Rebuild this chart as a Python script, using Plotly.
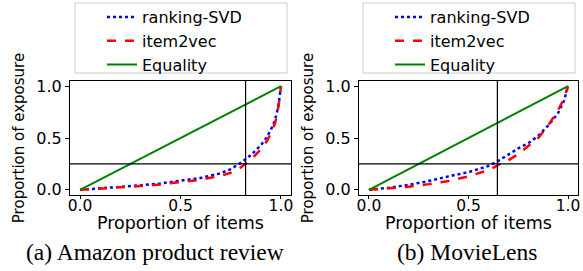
import plotly.graph_objects as go

# ---- data ----
amazon_x = [0, 0.1, 0.2, 0.3, 0.4, 0.5, 0.6, 0.7, 0.75, 0.8, 0.85, 0.9, 0.93, 0.95, 0.97, 0.98, 0.99, 1.0]
amazon_svd = [0, 0.012, 0.027, 0.043, 0.062, 0.085, 0.115, 0.16, 0.2, 0.26, 0.335, 0.43, 0.51, 0.58, 0.67, 0.75, 0.85, 1.0]
amazon_i2v = [0, 0.01, 0.022, 0.036, 0.052, 0.072, 0.097, 0.135, 0.165, 0.215, 0.29, 0.39, 0.47, 0.545, 0.64, 0.72, 0.83, 1.0]

movie_x = [0, 0.1, 0.2, 0.3, 0.4, 0.5, 0.6, 0.65, 0.7, 0.75, 0.8, 0.85, 0.9, 0.95, 0.98, 1.0]
movie_svd = [0, 0.02, 0.048, 0.085, 0.13, 0.17, 0.23, 0.28, 0.34, 0.4, 0.45, 0.52, 0.62, 0.74, 0.86, 1.0]
movie_i2v = [0, 0.012, 0.03, 0.055, 0.085, 0.13, 0.19, 0.24, 0.285, 0.345, 0.42, 0.5, 0.62, 0.77, 0.88, 1.0]

equality_x = [0, 1]
equality_y = [0, 1]

amazon_cut_x = 0.824
movie_cut_x = 0.645
cut_y = 0.25

series_names = ["ranking-SVD", "item2vec", "Equality"]
tick_vals = [0.0, 0.5, 1.0]
tick_text = ["0.0", "0.5", "1.0"]
x_title = "Proportion of items"
y_title = "Proportion of exposure"
captions = ["(a) Amazon product review", "(b) MovieLens"]

W, H = 583, 271
SANS = "DejaVu Sans"

fig = go.Figure()

panels = [
    ("x", "y", "legend", amazon_x, amazon_svd, amazon_i2v, amazon_cut_x),
    ("x2", "y2", "legend2", movie_x, movie_svd, movie_i2v, movie_cut_x),
]

for xa, ya, lg, xs, svd, i2v, cut in panels:
    fig.add_trace(go.Scatter(x=xs, y=svd, mode="lines", name=series_names[0],
                             line=dict(color="#0000ff", width=2.5, dash="dot"),
                             xaxis=xa, yaxis=ya, legend=lg))
    fig.add_trace(go.Scatter(x=xs, y=i2v, mode="lines", name=series_names[1],
                             line=dict(color="#ff0000", width=2.5, dash="dash"),
                             xaxis=xa, yaxis=ya, legend=lg))
    fig.add_trace(go.Scatter(x=equality_x, y=equality_y, mode="lines", name=series_names[2],
                             line=dict(color="#008000", width=2),
                             xaxis=xa, yaxis=ya, legend=lg))
    fig.add_shape(type="line", xref=xa, yref=f"{ya} domain", x0=cut, x1=cut, y0=0, y1=1,
                  line=dict(color="black", width=1.2))
    fig.add_shape(type="line", xref=f"{xa} domain", yref=ya, x0=0, x1=1, y0=cut_y, y1=cut_y,
                  line=dict(color="black", width=1.2))

ydom = [1 - 195 / H, 1 - 81 / H]
xdoms = [[70 / W, 291 / W], [359 / W, 578 / W]]

axis_common = dict(
    range=[-0.05, 1.05], tickvals=tick_vals, ticktext=tick_text,
    showgrid=False, zeroline=False, showline=True, mirror=True,
    linecolor="black", linewidth=1, ticks="outside",
    tickcolor="black", tickwidth=1, automargin=False,
)
xtick_font = dict(family=SANS, size=15.5, color="black")
ytick_font = dict(family=SANS, size=16, color="black")

fig.update_layout(
    xaxis=dict(domain=xdoms[0], anchor="y", ticklen=3, ticklabelstandoff=-7, tickfont=xtick_font, **axis_common),
    yaxis=dict(domain=ydom, anchor="x", ticklen=4, tickfont=ytick_font,
               title=dict(text=y_title, font=dict(family=SANS, size=15, color="black"), standoff=8),
               **axis_common),
    xaxis2=dict(domain=xdoms[1], anchor="y2", ticklen=3, ticklabelstandoff=-7, tickfont=xtick_font, **axis_common),
    yaxis2=dict(domain=ydom, anchor="x2", ticklen=4, tickfont=ytick_font,
                title=dict(text=y_title, font=dict(family=SANS, size=15, color="black"), standoff=8),
                **axis_common),
)

# x-axis titles placed like matplotlib's
for x0, x1 in xdoms:
    fig.add_annotation(text=x_title, xref="paper", yref="paper", x=(x0 + x1) / 2, y=1 - 223 / H,
                       xanchor="center", yanchor="middle", showarrow=False,
                       font=dict(family=SANS, size=17.5, color="black"))

# legend frames (matplotlib-style boxes)
for x0, x1 in [(75, 287), (363, 575)]:
    fig.add_shape(type="rect", xref="paper", yref="paper",
                  x0=x0 / W, x1=x1 / W, y0=1 - 73 / H, y1=1 - 3 / H,
                  line=dict(color="#cccccc", width=1), fillcolor="white", layer="below")

legend_common = dict(
    xanchor="left", yanchor="top", y=1.0,
    bgcolor="rgba(0,0,0,0)", borderwidth=0,
    font=dict(family=SANS, size=16, color="black"),
    tracegroupgap=0,
)
fig.update_layout(
    legend=dict(x=102 / W, **legend_common),
    legend2=dict(x=390 / W, **legend_common),
)

for cap, cx in zip(captions, [155, 467]):
    fig.add_annotation(text=cap, xref="paper", yref="paper", x=cx / W, y=1 - 252 / H,
                       xanchor="center", yanchor="middle", showarrow=False,
                       font=dict(family="Liberation Serif", size=23.5, color="black"))

fig.update_layout(
    width=W, height=H, autosize=False,
    margin=dict(l=0, r=0, t=0, b=0, autoexpand=False),
    plot_bgcolor="white", paper_bgcolor="white",
    showlegend=True,
)

fig.write_html("out.html", config={"displayModeBar": False},
               post_script="document.body.style.margin='0';")
